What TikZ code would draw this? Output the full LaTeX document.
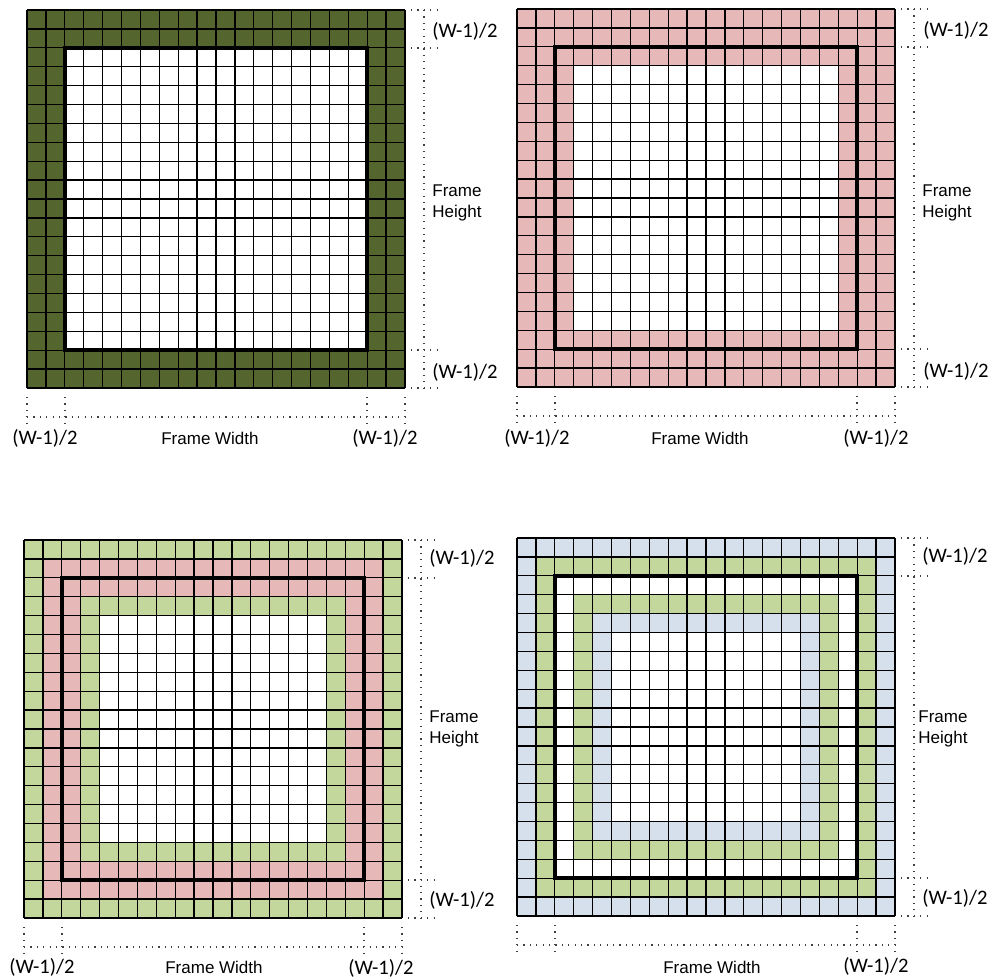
\documentclass[tikz,border=0pt]{standalone}
\usepackage{fontspec}
\setmainfont{Liberation Sans}
\newfontfamily\calfont{Carlito}
\usepackage{xcolor}
\usepackage{tikz}
\usetikzlibrary{positioning}
\definecolor{olivedark}{RGB}{84,101,45}
\definecolor{rosefill}{RGB}{230,185,184}
\definecolor{sagefill}{RGB}{195,214,155}
\definecolor{bluefill}{RGB}{214,224,236}

\begin{document}
\begin{tikzpicture}[x=0.5pt,y=-0.5pt,
  cellunit/.style={x=9.45pt,y=9.45pt},
  gridline/.style={black,line width=0.65pt},
  filterbox/.style={black,line width=1.8pt},
  dimline/.style={black!75,line width=0.6pt,dash pattern=on 0.6pt off 2.6pt},
  halflbl/.style={font=\calfont\fontsize{10.3}{12}\selectfont,inner sep=0pt},
  framelbl/.style={font=\fontsize{8.5}{10.5}\selectfont,inner sep=0pt,align=left}]
\useasboundingbox (0,0) rectangle (992,979);
% fills, ring by ring from the outside
\begin{scope}[shift={(27,388)},cellunit]
\fill[olivedark] (0,0) rectangle (20,20); \fill[white] (2,2) rectangle (18,18);
\end{scope}
\begin{scope}[shift={(517,387)},cellunit]
\fill[rosefill] (0,0) rectangle (20,20); \fill[white] (3,3) rectangle (17,17);
\end{scope}
\begin{scope}[shift={(24,918)},cellunit]
\fill[sagefill] (0,0) rectangle (20,20); \fill[rosefill] (1,1) rectangle (19,19);
\fill[sagefill] (3,3) rectangle (17,17); \fill[white] (4,4) rectangle (16,16);
\end{scope}
\begin{scope}[shift={(517,916)},cellunit]
\fill[bluefill] (0,0) rectangle (20,20); \fill[sagefill] (1,1) rectangle (19,19);
\fill[white] (2,2) rectangle (18,18); \fill[sagefill] (3,3) rectangle (17,17);
\fill[bluefill] (4,4) rectangle (16,16); \fill[white] (5,5) rectangle (15,15);
\end{scope}
% grids and dimension lines
\foreach \px/\py in {27/10,517/9,24/540,517/538}{
  \begin{scope}[shift={(\px,\py)}]
    \begin{scope}[shift={(0,378)},cellunit]
      \draw[gridline,step=1] (0,0) grid (20,20);
      \draw[filterbox] (2,2) rectangle (18,18);
    \end{scope}
    \draw[dimline] (397,0) -- (397,378);
    \foreach \h in {0,38,340,378} {\draw[dimline] (384,\h) -- (413,\h);}
    \draw[dimline] (0,407) -- (378,407);
    \foreach \v in {0,38,340,378} {\draw[dimline] (\v,387) -- (\v,415);}
  \end{scope}
}
% labels
\node[halflbl,anchor=west] (ht1) at (432,31) {(W-1)/2};
\node[framelbl,anchor=west] (fh1) at (432,203) {Frame\\Height};
\node[halflbl,anchor=west] (hb1) at (432,372) {(W-1)/2};
\node[halflbl] (hl1) at (45,438) {(W-1)/2}; \node[framelbl] (fw1) at (210,438) {Frame Width};
\node[halflbl] (hr1) at (385,438) {(W-1)/2};
\node[halflbl,anchor=west] (ht2) at (923,30) {(W-1)/2};
\node[framelbl,anchor=west] (fh2) at (922,203) {Frame\\Height};
\node[halflbl,anchor=west] (hb2) at (923,371) {(W-1)/2};
\node[halflbl] (hl2) at (537,438) {(W-1)/2}; \node[framelbl] (fw2) at (700,438) {Frame Width};
\node[halflbl] (hr2) at (876,438) {(W-1)/2};
\node[halflbl,anchor=west] (ht3) at (429,558) {(W-1)/2};
\node[framelbl,anchor=west] (fh3) at (429,729) {Frame\\Height};
\node[halflbl,anchor=west] (hb3) at (429,900) {(W-1)/2};
\node[halflbl] (hl3) at (42,967) {(W-1)/2}; \node[framelbl] (fw3) at (214,967) {Frame Width};
\node[halflbl] (hr3) at (381,968) {(W-1)/2};
\node[halflbl,anchor=west] (ht4) at (922,556) {(W-1)/2};
\node[framelbl,anchor=west] (fh4) at (918,729) {Frame\\Height};
\node[halflbl,anchor=west] (hb4) at (922,898) {(W-1)/2};
\node[framelbl] (fw4) at (712,967) {Frame Width};
\node[halflbl] (hr4) at (876,966) {(W-1)/2};
\end{tikzpicture}
\end{document}
